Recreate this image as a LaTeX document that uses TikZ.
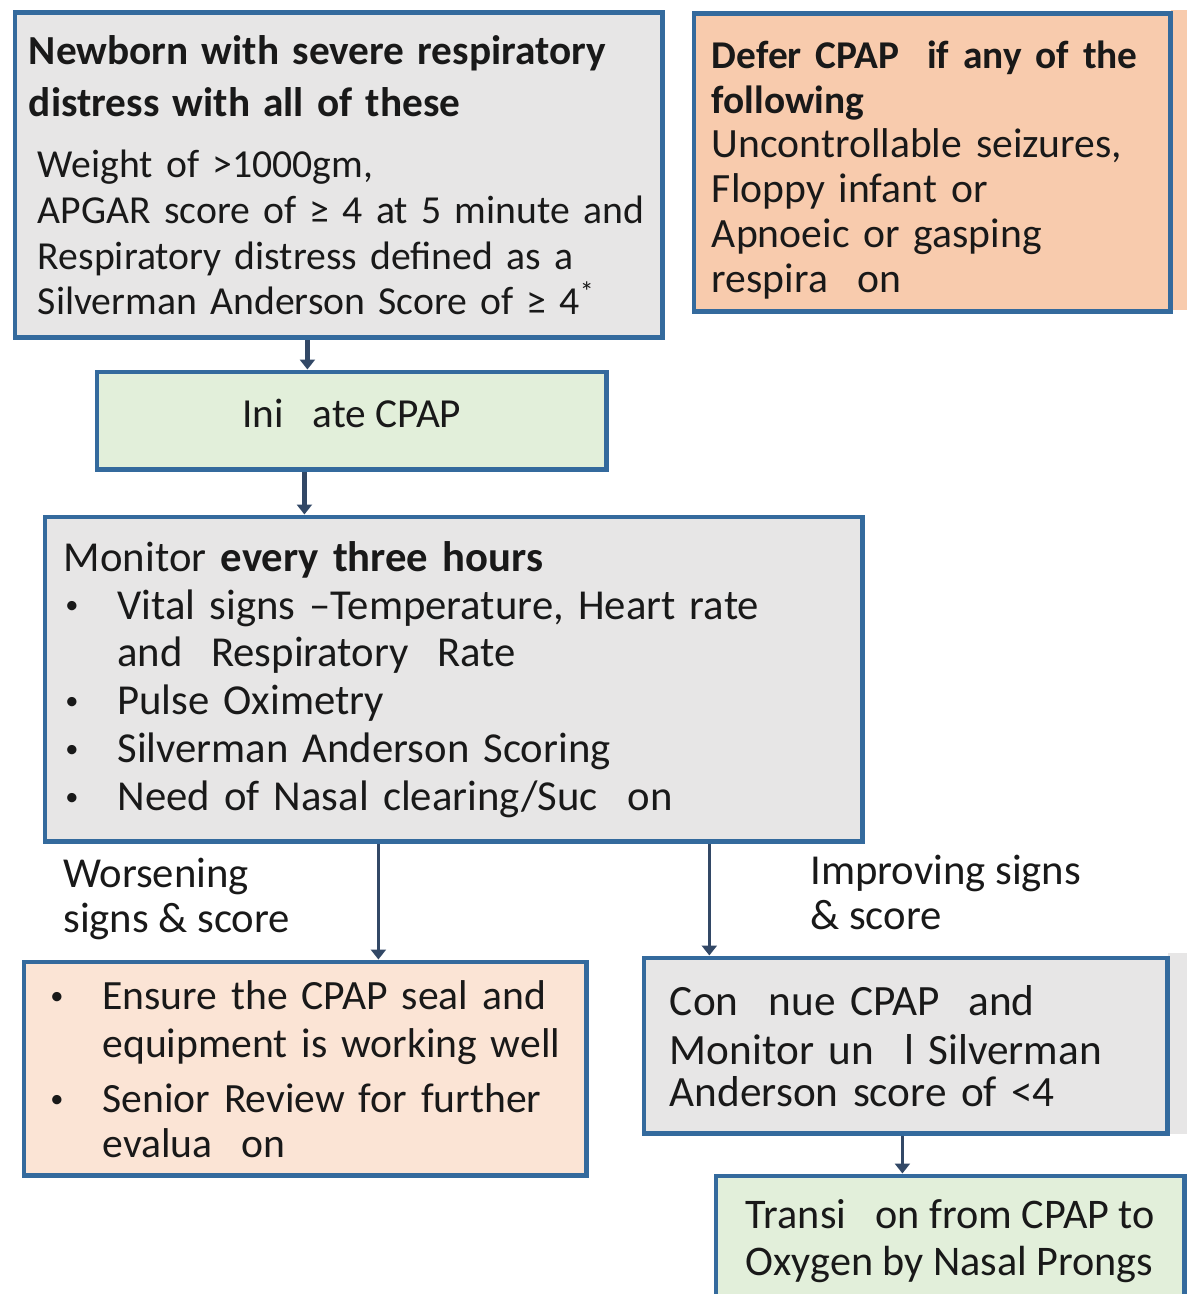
\documentclass[tikz,border=0pt]{standalone}
\usepackage{fontspec}
\setmainfont{Carlito}
\usetikzlibrary{arrows.meta}

\definecolor{boxblue}{RGB}{52,106,157}
\definecolor{arrownavy}{RGB}{50,72,102}
\definecolor{boxgray}{RGB}{231,230,230}
\definecolor{boxpeach}{RGB}{248,203,173}
\definecolor{boxpink}{RGB}{251,228,213}
\definecolor{boxgreen}{RGB}{226,239,218}
\definecolor{inktext}{RGB}{25,25,25}

\newcommand{\fs}[2]{\fontsize{#1}{#2}\selectfont}
\newcommand{\tigap}{\hspace{0.7em}}
\newcommand{\bul}{\makebox[1.07cm][l]{\hspace{0.03cm}\raisebox{0.12em}{\fs{15}{15}•}}}
\newcommand{\hang}{\hspace*{1.07cm}}

\tikzset{
  box/.style={draw=boxblue, line width=2.8pt, rectangle, anchor=north west,
    inner sep=0pt, align=left, text=inktext, font=\fs{22.6}{26}},
  flow/.style={draw=arrownavy, line width=1.7pt, -{Triangle[width=0.3cm, length=0.2cm]}},
  cue/.style={anchor=north west, inner sep=0pt, align=left, text=inktext,
    font=\fs{24.3}{25.5}}
}

\begin{document}
\begin{tikzpicture}[x=0.02cm, y=-0.02cm]
    \useasboundingbox (0,0) rectangle (1187,1294);
    \clip (0,0) rectangle (1187,1294);

    % fill strips at the right edge
    \fill[boxpeach] (1171,10) rectangle (1187,310);
    \fill[boxgray] (1168,953) rectangle (1187,1134);

    % top row
    \node[box, fill=boxgray, minimum width=12.96cm, minimum height=6.5cm, text width=12.4cm]
        (newborn) at (12.5,10.5) {%
        {\fs{23.5}{26}\bfseries Newborn with severe respiratory}\\[3.5pt]
        {\fs{23.5}{26}\bfseries distress with all of these}\\[9pt]
        \hspace*{0.18cm}Weight of >1000gm,\\
        \hspace*{0.18cm}APGAR score of ≥ 4 at 5 minute and\\
        \hspace*{0.18cm}Respiratory distress defined as a\\
        \hspace*{0.18cm}Silverman Anderson Score of ≥ 4\textsuperscript{*}};
    \node[box, fill=boxpeach, minimum width=9.54cm, minimum height=5.96cm, text width=8.82cm,
        font=\fs{23.7}{25.5}]
        (defer) at (691.5,11.5) {%
        \rule{0pt}{23.6pt}{\fs{22.4}{25.5}\bfseries Defer CPAP\ \ if any of the}\\
        {\fs{22.4}{25.5}\bfseries following}\\
        Uncontrollable seizures,\\
        Floppy infant or\\
        Apnoeic or gasping\\
        respira\tigap on};

    \node[box, fill=boxgreen, minimum width=10.2cm, minimum height=1.96cm, align=center,
        font=\fs{23.5}{26}]
        (initiate) at (94.5,369.5) {\raisebox{8.4pt}{Ini\tigap ate CPAP}};

    % monitoring
    \node[box, fill=boxgray, minimum width=16.36cm, minimum height=6.5cm, text width=15.6cm,
        font=\fs{24.3}{27.2}]
        (monitor) at (42.5,514.5) {%
        Monitor \textbf{every three hours}\\
        \bul Vital signs –Temperature, Heart rate\\
        \hang and\ \ Respiratory\ \ Rate\\
        \bul Pulse Oximetry\\
        \bul Silverman Anderson Scoring\\
        \bul Need of Nasal clearing/Suc\tigap on};

    % outcomes
    \node[box, fill=boxpink, minimum width=11.26cm, minimum height=4.28cm, text width=10.26cm,
        font=\fs{23.7}{26.5}]
        (ensure) at (21.5,959.5) {%
        \bul Ensure the CPAP seal and\\[1pt]
        \hang equipment is working well\\[5pt]
        \bul Senior Review for further\\[-1pt]
        \hang evalua\tigap on};
    \node[box, fill=boxgray, minimum width=10.48cm, minimum height=3.52cm, text width=9.44cm,
        font=\fs{24.6}{26}]
        (cont) at (641.5,955.5) {%
        Con\tigap nue CPAP\ \ and\\[2pt]
        Monitor un\tigap l Silverman\\[-2pt]
        Anderson score of <4};
    \node[box, fill=boxgreen, minimum width=9.38cm, minimum height=2.6cm,
        font=\fs{24}{27}]
        (trans) at (713.5,1173.5) {%
        Transi\tigap on from CPAP to\\
        Oxygen by Nasal Prongs};

    \node[cue] (worse) at (63,858) {Worsening\\signs \& score};
    \node[cue] (improve) at (810,855) {Improving signs\\\& score};

    % connectors
    \draw[flow, line width=2.5pt] ([xshift=-0.63cm]newborn.south) -- ([xshift=-0.63cm]newborn.south |- initiate.north);
    \draw[flow, line width=2.5pt] ([xshift=-0.95cm]initiate.south) -- ([xshift=-0.95cm]initiate.south |- monitor.north);
    \draw[flow] ([xshift=-1.51cm]monitor.south) -- ([xshift=-1.51cm]monitor.south |- ensure.north);
    \draw[flow] ([xshift=5.11cm]monitor.south) -- ([xshift=5.11cm]monitor.south |- cont.north);
    \draw[flow, line width=1.3pt] ([xshift=-0.07cm]cont.south) -- ([xshift=-0.07cm]cont.south |- trans.north);
\end{tikzpicture}
\end{document}
